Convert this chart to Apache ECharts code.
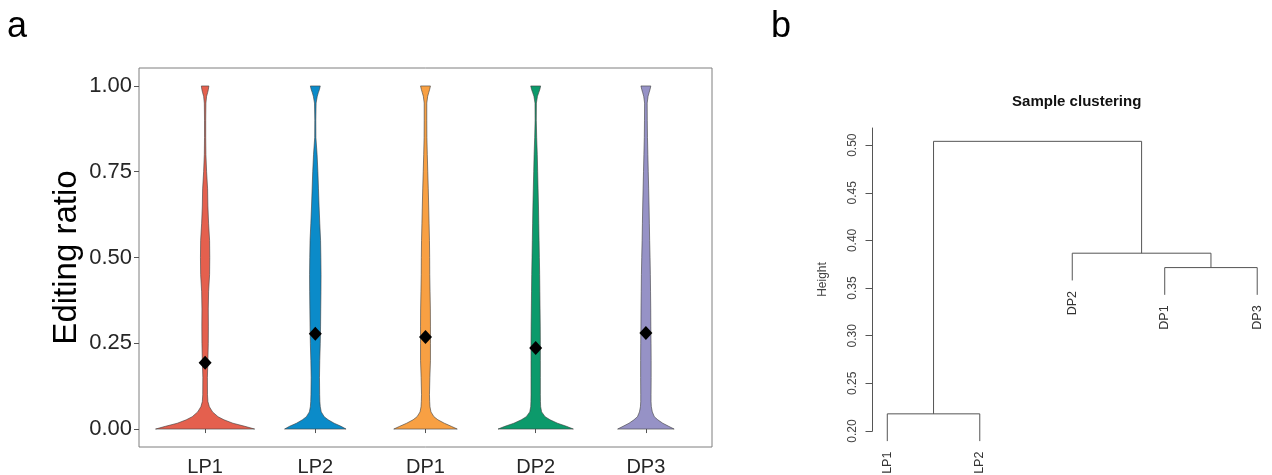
<!DOCTYPE html>
<html>
<head>
<meta charset="utf-8">
<script src="https://cdn.jsdelivr.net/npm/echarts@6/dist/echarts.min.js"></script>
<style>html,body{margin:0;padding:0;background:#fff}#c{width:1272px;height:475px}</style>
</head>
<body>
<div id="c"></div>
<script>
// ---------- Panel a: violin data ----------
const categories = ['LP1', 'LP2', 'DP1', 'DP2', 'DP3'];
const yTicksA = [0, 0.25, 0.5, 0.75, 1.0];
// editing-ratio levels at which the violin density (half-width) was read
const densityLevels = [0, 0.008, 0.017, 0.027, 0.036, 0.05, 0.065, 0.08, 0.1, 0.15, 0.2, 0.25, 0.3, 0.35, 0.4, 0.45, 0.5, 0.55, 0.6, 0.65, 0.7, 0.75, 0.8, 0.85, 0.9, 0.95, 0.97, 0.98, 0.99, 1.0];
// relative density (violin half-width, arbitrary units; LP1 base = largest)
const densityLP1 = [50, 40, 28, 19, 13, 7.5, 4.3, 2.8, 2.4, 2.3, 2.8, 3.2, 3.3, 3.2, 3.5, 4.5, 4.7, 4.5, 3.5, 2.8, 2.5, 1.5, 0.8, 0.6, 0.6, 0.8, 1.5, 2.5, 3.3, 3.8];
const densityLP2 = [31, 26, 19, 13, 9, 6, 5, 4.6, 4.4, 4.2, 4.5, 5, 5.3, 5.5, 5.7, 5.8, 5.6, 5.3, 4.5, 3.8, 3.2, 2.6, 1.8, 0.6, 0.5, 0.8, 2, 3, 4.2, 5];
const densityDP1 = [32, 26, 19, 12.5, 8.5, 5.5, 4.5, 4.2, 4.0, 4.4, 5, 5, 5, 4.9, 4.6, 4.3, 4.2, 4.0, 3.6, 3.2, 2.8, 2.3, 1.8, 1.4, 1.3, 1.3, 2.2, 3.2, 4.2, 5];
const densityDP2 = [38, 31, 22, 14.5, 9.5, 6, 5, 4.8, 4.7, 4.7, 4.7, 4.7, 4.6, 4.4, 4.2, 4.0, 3.7, 3.4, 3.1, 2.8, 2.4, 2.0, 1.6, 1.0, 0.6, 0.7, 1.8, 3.0, 4.2, 5];
const densityDP3 = [28.5, 23, 17, 12, 8.5, 6.5, 5.5, 5.2, 5.2, 5.3, 5.3, 5.2, 5, 4.9, 4.7, 4.5, 4.2, 3.8, 3.5, 3.2, 2.8, 2.4, 2, 1.6, 1.4, 1.3, 2.2, 3.2, 4.2, 5];
const meanRatio = [0.193, 0.278, 0.268, 0.236, 0.280];

// ---------- Panel b: dendrogram data ----------
const leafOrder = ['LP1', 'LP2', 'DP2', 'DP1', 'DP3'];
const mergeA = ['LP1', 'DP1', 'DP2', 'm1'];
const mergeB = ['LP2', 'DP3', 'm2', 'm3'];
const mergeHeight = [0.218, 0.3715, 0.3866, 0.504];
const yTicksB = [0.20, 0.25, 0.30, 0.35, 0.40, 0.45, 0.50];

// ---------- styles ----------
const violinColors = ['#E4604E', '#0B8BC9', '#F8A043', '#0C9A6B', '#9692C6'];
const densities = [densityLP1, densityLP2, densityDP1, densityDP2, densityDP3];
const maxDensity = Math.max(...densities.map(d => Math.max(...d)));
const halfWidthMax = 0.45;

// build dendrogram segments in data space
const hang = 0.1 * (Math.max(...mergeHeight) - Math.min(...mergeHeight));
const nodeX = {}, nodeH = {};
leafOrder.forEach((n, i) => { nodeX[n] = i + 1; });
const segments = [];
const leafBottoms = {};
mergeHeight.forEach((h, k) => {
  const a = mergeA[k], b = mergeB[k];
  [a, b].forEach(c => {
    if (!(c in nodeH)) { nodeH[c] = h - hang; leafBottoms[c] = h - hang; }
  });
  const id = 'm' + (k + 1);
  nodeX[id] = (nodeX[a] + nodeX[b]) / 2;
  nodeH[id] = h;
  segments.push([[nodeX[a], nodeH[a]], [nodeX[a], h]]);
  segments.push([[nodeX[a], h], [nodeX[b], h]]);
  segments.push([[nodeX[b], h], [nodeX[b], nodeH[b]]]);
});

const chart = echarts.init(document.getElementById('c'), null, {renderer: 'canvas'});
const labelFont = 'Liberation Sans, Arial, sans-serif';

const option = {
  backgroundColor: '#fff',
  animation: false,
  graphic: [
    {type: 'text', left: 7, top: 9, style: {text: 'a', font: '36px ' + labelFont, fill: '#000'}},
    {type: 'text', left: 771, top: 9, style: {text: 'b', font: '36px ' + labelFont, fill: '#000'}}
  ],
  title: {
    text: 'Sample clustering',
    left: 1071.7, top: 89, textAlign: 'center',
    textStyle: {fontFamily: labelFont, fontSize: 15, fontWeight: 'bold', color: '#111'}
  },
  grid: [
    {left: 139, top: 68, width: 573, height: 379, show: true, borderColor: '#7f7f7f', borderWidth: 1, backgroundColor: 'transparent', outerBoundsMode: 'none', containLabel: false},
    {left: 872.5, top: 128, width: 399.5, height: 303, show: false, outerBoundsMode: 'none', containLabel: false}
  ],
  xAxis: [
    {
      gridIndex: 0, type: 'value', min: 0.4, max: 5.6,
      axisLine: {show: false}, splitLine: {show: false},
      axisTick: {show: true, length: 4, customValues: [1, 2, 3, 4, 5], lineStyle: {color: '#555'}},
      axisLabel: {customValues: [1, 2, 3, 4, 5], formatter: v => categories[Math.round(v) - 1] || '', fontSize: 20, color: '#262626', fontFamily: labelFont, margin: 10}
    },
    {gridIndex: 1, type: 'value', min: 0.84, max: 5.16, show: false}
  ],
  yAxis: [
    {
      gridIndex: 0, type: 'value', min: -0.0523, max: 1.0523,
      axisLine: {show: false}, splitLine: {show: false},
      axisTick: {show: true, length: 5, customValues: yTicksA, lineStyle: {color: '#555'}},
      axisLabel: {customValues: yTicksA, formatter: v => v.toFixed(2), fontSize: 22, color: '#262626', fontFamily: labelFont, margin: 7},
      name: 'Editing ratio', nameLocation: 'middle', nameGap: 56,
      nameTextStyle: {fontSize: 33, color: '#000', fontFamily: labelFont}
    },
    {
      gridIndex: 1, type: 'value', min: 0.2, max: 0.518,
      axisLine: {show: true, lineStyle: {color: '#555', width: 1}}, splitLine: {show: false},
      axisTick: {show: true, length: 7, customValues: yTicksB, lineStyle: {color: '#555'}},
      axisLabel: {customValues: yTicksB, formatter: v => v.toFixed(2), rotate: 90, fontSize: 12, color: '#444', fontFamily: labelFont, margin: 14},
      name: 'Height', nameLocation: 'middle', nameGap: 44,
      nameTextStyle: {fontSize: 12, color: '#444', fontFamily: labelFont}
    }
  ],
  series: [
    {
      type: 'custom', xAxisIndex: 0, yAxisIndex: 0, clip: false,
      data: categories.map((c, i) => [i + 1, 0]),
      renderItem: function (params, api) {
        const idx = api.value(0) - 1;
        const d = densities[idx];
        const pts = [];
        for (let k = 0; k < densityLevels.length; k++) {
          pts.push(api.coord([idx + 1 + d[k] / maxDensity * halfWidthMax, densityLevels[k]]));
        }
        for (let k = densityLevels.length - 1; k >= 0; k--) {
          pts.push(api.coord([idx + 1 - d[k] / maxDensity * halfWidthMax, densityLevels[k]]));
        }
        return {type: 'polygon', shape: {points: pts}, style: {fill: violinColors[idx], stroke: '#3c3c3c', lineWidth: 0.6}};
      }
    },
    {
      type: 'scatter', xAxisIndex: 0, yAxisIndex: 0,
      data: meanRatio.map((v, i) => [i + 1, v]),
      symbol: 'diamond', symbolSize: [13, 14],
      itemStyle: {color: '#000', opacity: 1}
    },
    {
      type: 'custom', xAxisIndex: 1, yAxisIndex: 1, clip: false,
      data: [[1, 0.3]],
      renderItem: function (params, api) {
        const children = segments.map(s => {
          const p1 = api.coord(s[0]), p2 = api.coord(s[1]);
          return {type: 'line', shape: {x1: p1[0], y1: p1[1], x2: p2[0], y2: p2[1]}, style: {stroke: '#555', lineWidth: 1}};
        });
        leafOrder.forEach(n => {
          const p = api.coord([nodeX[n], leafBottoms[n]]);
          children.push({
            type: 'text', x: p[0], y: p[1] + 10.5, rotation: Math.PI / 2,
            style: {text: n, font: '12.5px ' + labelFont, fill: '#333', align: 'right', verticalAlign: 'middle'}
          });
        });
        return {type: 'group', children: children};
      }
    }
  ]
};
chart.setOption(option);
</script>
</body>
</html>
